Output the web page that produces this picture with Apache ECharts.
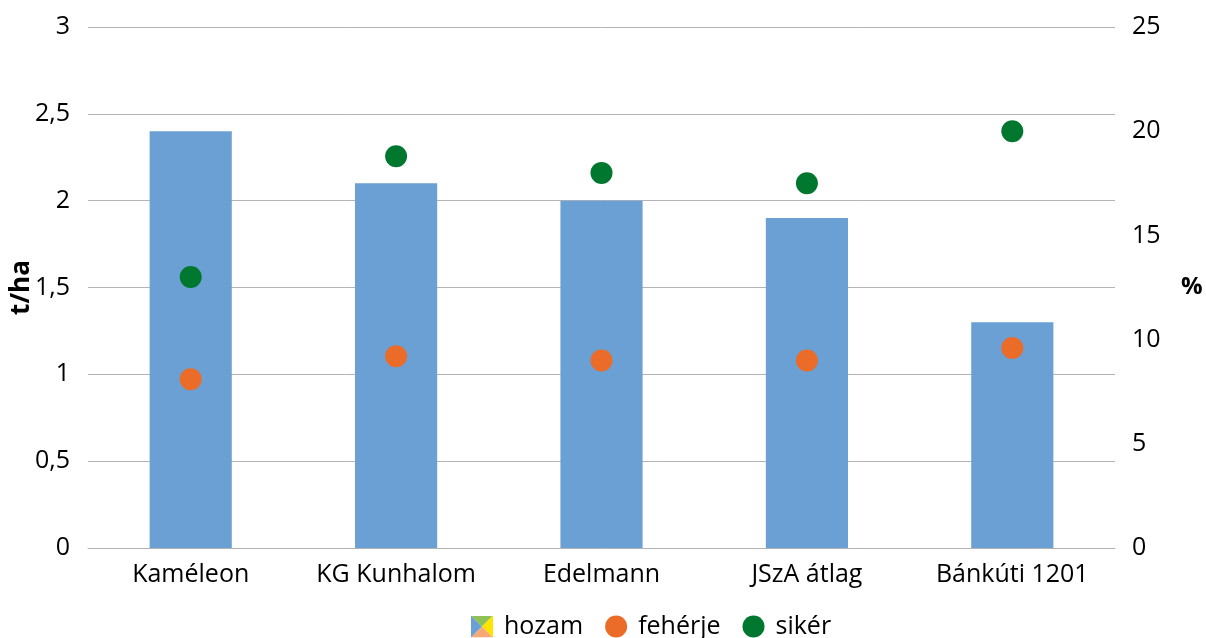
<!DOCTYPE html>
<html>
<head>
<meta charset="utf-8">
<script src="https://cdn.jsdelivr.net/npm/echarts@6/dist/echarts.min.js"></script>
<style>html,body{margin:0;padding:0;background:#fff;}#c{width:1206px;height:638px;}</style>
</head>
<body>
<div id="c"></div>
<script>
const categories = ['Kaméleon', 'KG Kunhalom', 'Edelmann', 'JSzA átlag', 'Bánkúti 1201'];
const hozam = [2.4, 2.1, 2.0, 1.9, 1.3];
const feherje = [8.1, 9.2, 9.0, 9.0, 9.6];
const siker = [13.0, 18.8, 18.0, 17.5, 20.0];
const leftTicks = [0, 0.5, 1, 1.5, 2, 2.5, 3];
const rightTicks = [0, 5, 10, 15, 20, 25];

const FONT = 'Open Sans';
const hozamIcon = 'image://data:image/svg+xml;charset=utf-8,' + encodeURIComponent(
  '<svg xmlns="http://www.w3.org/2000/svg" width="20" height="20" viewBox="0 0 20 20">' +
  '<polygon points="0,0 10,10 0,20" fill="#6aa0d4"/>' +
  '<polygon points="0,0 20,0 10,10" fill="#8fc157"/>' +
  '<polygon points="20,0 20,20 10,10" fill="#ffe400"/>' +
  '<polygon points="0,20 10,10 20,20" fill="#f5a878"/>' +
  '</svg>');

const chart = echarts.init(document.getElementById('c'), null, {renderer: 'canvas'});
const comma = v => String(v).replace('.', ',');
chart.setOption({
  animation: false,
  textStyle: {fontFamily: FONT},
  grid: {left: 88, right: 91, top: 27, bottom: 90, containLabel: false, outerBoundsMode: 'none'},
  legend: {
    bottom: -6,
    left: 466,
    itemWidth: 22, itemHeight: 22, itemGap: 22,
    textStyle: {fontFamily: FONT, fontSize: 25, color: '#000', padding: [0, 0, 0, 6]},
    data: [
      {name: 'hozam', icon: hozamIcon},
      {name: 'fehérje', icon: 'circle'},
      {name: 'sikér', icon: 'circle'}
    ]
  },
  xAxis: {
    type: 'category',
    data: categories,
    axisTick: {show: false},
    axisLine: {lineStyle: {color: '#b3b3b3'}},
    axisLabel: {fontFamily: FONT, fontSize: 25, color: '#000', margin: 14, interval: 0, hideOverlap: false}
  },
  yAxis: [
    {
      type: 'value', min: leftTicks[0], max: leftTicks[leftTicks.length - 1], interval: 0.5,
      name: 't/ha', nameLocation: 'middle', nameGap: 53, nameRotate: 90, nameMoveOverlap: false,
      nameTextStyle: {fontFamily: FONT, fontSize: 26, fontWeight: 'bold', color: '#000'},
      axisLabel: {fontFamily: FONT, fontSize: 25, color: '#000', margin: 18, formatter: comma},
      splitLine: {lineStyle: {color: '#b3b3b3', width: 1}},
      axisLine: {show: false}, axisTick: {show: false}
    },
    {
      type: 'value', min: rightTicks[0], max: rightTicks[rightTicks.length - 1], interval: 5,
      name: '%', nameLocation: 'middle', nameGap: 66, nameRotate: 0, nameMoveOverlap: false,
      nameTextStyle: {fontFamily: FONT, fontSize: 24, fontWeight: 'bold', color: '#000', align: 'left'},
      axisLabel: {fontFamily: FONT, fontSize: 25, color: '#000', margin: 17, formatter: comma},
      splitLine: {show: false},
      axisLine: {show: false}, axisTick: {show: false}
    }
  ],
  series: [
    {name: 'hozam', type: 'bar', yAxisIndex: 0, data: hozam, barWidth: '40%',
     itemStyle: {color: '#6aa0d4'}},
    {name: 'fehérje', type: 'scatter', yAxisIndex: 1, data: feherje, symbolSize: 22,
     itemStyle: {color: '#eb6b28', opacity: 1}},
    {name: 'sikér', type: 'scatter', yAxisIndex: 1, data: siker, symbolSize: 22,
     itemStyle: {color: '#00772f', opacity: 1}}
  ]
});
</script>
</body>
</html>
